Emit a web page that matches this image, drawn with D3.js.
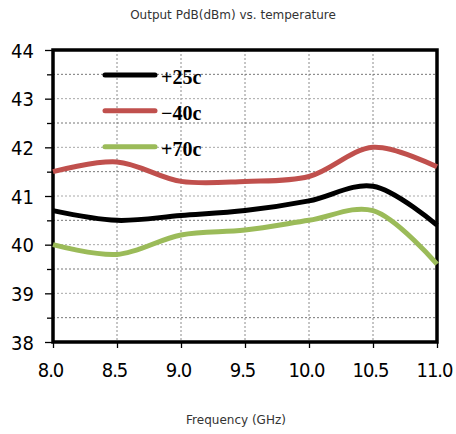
<!DOCTYPE html>
<html><head><meta charset="utf-8">
<script src="https://cdn.jsdelivr.net/npm/d3@7"></script>
<style>body{margin:0;background:#fff}svg{display:block}</style>
</head><body>
<script>
const freqs = [8.0, 8.5, 9.0, 9.5, 10.0, 10.5, 11.0];
const seriesNames = ["+25c", "\u221240c", "+70c"];
const seriesColors = ["#000000", "#C0504D", "#9BBB59"];
const valsP25 = [40.7, 40.5, 40.6, 40.7, 40.9, 41.2, 40.4];
const valsM40 = [41.5, 41.7, 41.3, 41.3, 41.4, 42.0, 41.6];
const valsP70 = [40.0, 39.8, 40.2, 40.3, 40.5, 40.7, 39.6];
const xTicks = [8.0, 8.5, 9.0, 9.5, 10.0, 10.5, 11.0];
const yTicks = [38, 39, 40, 41, 42, 43, 44];
const yMinor = [38.5, 39.5, 40.5, 41.5, 42.5, 43.5];
const titleText = "Output PdB(dBm) vs. temperature";
const xLabel = "Frequency (GHz)";

const W = 456, H = 434;
const L = 53, R = 437, T = 50, B = 342;
const svg = d3.select("body").append("svg").attr("width", W).attr("height", H);
const x = d3.scaleLinear().domain([8, 11]).range([L, R]);
const y = d3.scaleLinear().domain([38, 44]).range([B, T]);

// grid
const g = svg.append("g");
g.selectAll("line.vg").data(xTicks.slice(1, -1)).join("line")
  .attr("x1", d => x(d)).attr("x2", d => x(d)).attr("y1", T).attr("y2", B)
  .attr("stroke", "#8c8c8c").attr("stroke-width", 1).attr("stroke-dasharray", "2,2");
g.selectAll("line.hg").data(yTicks.slice(1, -1).concat(yMinor)).join("line")
  .attr("y1", d => y(d)).attr("y2", d => y(d)).attr("x1", L).attr("x2", R)
  .attr("stroke", d => Number.isInteger(d) ? "#a8a8a8" : "#777").attr("stroke-width", 1).attr("stroke-dasharray", "2,2");

// axes
const yAxis = d3.axisLeft(y).tickValues(yTicks).tickSize(8).tickFormat(d3.format("d"));
const ya = svg.append("g").attr("transform", `translate(${L},0)`).call(yAxis);
ya.select(".domain").remove();
ya.selectAll(".tick line").attr("stroke", "#000").attr("stroke-width", 1.3);
ya.selectAll(".tick text").attr("x", -19).attr("dy", "0.36em")
  .style("font-family", "'DejaVu Sans Condensed','DejaVu Sans',sans-serif").style("font-stretch", "condensed")
  .style("font-size", "20px").attr("fill", "#000");
const yMinorAxis = d3.axisLeft(y).tickValues(yMinor).tickSize(6).tickFormat("");
const ym = svg.append("g").attr("transform", `translate(${L},0)`).call(yMinorAxis);
ym.select(".domain").remove();
ym.selectAll(".tick line").attr("stroke", "#000").attr("stroke-width", 1.3);

const xAxis = d3.axisBottom(x).tickValues(xTicks).tickSize(6).tickFormat(d3.format(".1f"));
const xa = svg.append("g").attr("transform", `translate(0,${B})`).call(xAxis);
xa.select(".domain").remove();
xa.selectAll(".tick line").attr("stroke", "#000").attr("stroke-width", 1.3);
xa.selectAll(".tick text").attr("y", 21).attr("dy", "0.71em").attr("dx", -3)
  .style("font-family", "'DejaVu Sans Condensed','DejaVu Sans',sans-serif").style("font-stretch", "condensed")
  .style("letter-spacing", "-1px")
  .style("font-size", "20px").attr("fill", "#000");

// frame
svg.append("rect").attr("x", L).attr("y", T).attr("width", R - L).attr("height", B - T)
  .attr("fill", "none").attr("stroke", "#000").attr("stroke-width", 3.5);

// lines
const allVals = [valsP25, valsM40, valsP70];
const line = d3.line().x((d, i) => x(freqs[i])).y(d => y(d)).curve(d3.curveCatmullRom.alpha(0.5));
const order = [1, 0, 2];
order.forEach(k => {
  svg.append("path").attr("d", line(allVals[k])).attr("fill", "none")
    .attr("stroke", seriesColors[k]).attr("stroke-width", 5).attr("stroke-linejoin", "round");
});

// legend
const legY = [75, 110.7, 146.7];
seriesNames.forEach((n, i) => {
  svg.append("line").attr("x1", 105).attr("x2", 155).attr("y1", legY[i]).attr("y2", legY[i])
    .attr("stroke", seriesColors[i]).attr("stroke-width", 5).attr("stroke-linecap", "round");
  svg.append("text").attr("x", 161).attr("y", legY[i] + 8.8).text(n)
    .style("font-family", "'Liberation Serif',serif").style("font-weight", "bold").style("font-size", "20px").attr("fill", "#000");
});

// titles
svg.append("text").attr("x", 233).attr("y", 19).attr("text-anchor", "middle").text(titleText)
  .style("font-family", "'DejaVu Sans',sans-serif").style("font-size", "12px").attr("fill", "#333");
svg.append("text").attr("x", 236).attr("y", 424).attr("text-anchor", "middle").text(xLabel)
  .style("font-family", "'DejaVu Sans',sans-serif").style("font-size", "12px").attr("fill", "#333");
</script>
</body></html>
